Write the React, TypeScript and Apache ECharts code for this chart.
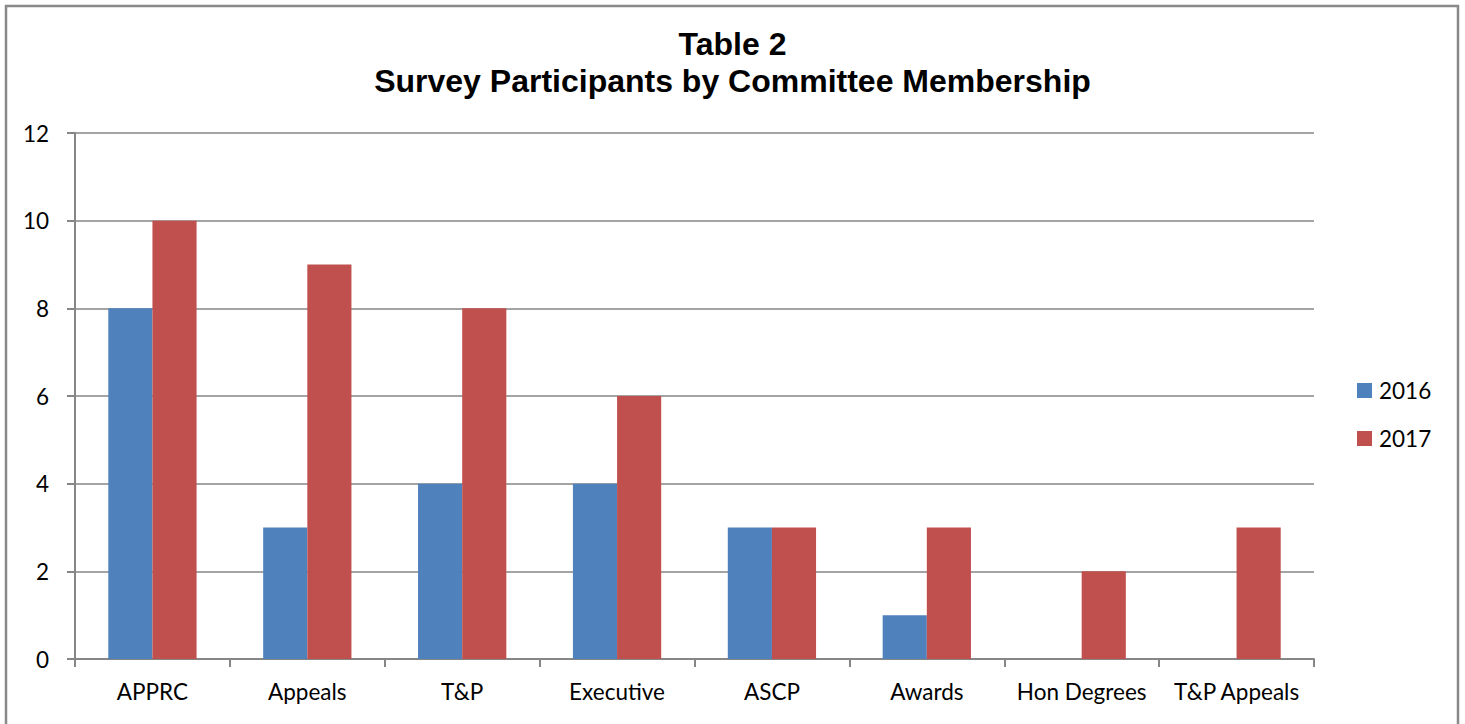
import React, { useEffect, useRef } from "react";
import * as echarts from "echarts";

const categories = ["APPRC", "Appeals", "T&P", "Executive", "ASCP", "Awards", "Hon Degrees", "T&P Appeals"];
const values2016 = [8, 3, 4, 4, 3, 1, 0, 0];
const values2017 = [10, 9, 8, 6, 3, 3, 2, 3];
const seriesNames = ["2016", "2017"];
const titleText = "Table 2\nSurvey Participants by Committee Membership";

export default function App() {
  const ref = useRef<HTMLDivElement>(null);
  useEffect(() => {
    document.body.style.margin = "0";
    const chart = echarts.init(ref.current!, null, { renderer: "svg" });
    const labelFont = "Lato";
    chart.setOption({
      animation: false,
      backgroundColor: "#ffffff",
      title: {
        text: titleText,
        left: "center",
        top: 20,
        textStyle: {
          fontFamily: "Liberation Sans",
          fontWeight: "bold",
          fontSize: 32,
          lineHeight: 37,
          color: "#000",
        },
      },
      graphic: [
        {
          type: "rect",
          shape: { x: 6, y: 6, width: 1452, height: 740 },
          style: { fill: "none", stroke: "#898989", lineWidth: 2.5 },
          silent: true,
        },
      ],
      legend: {
        orient: "vertical",
        left: 1352,
        top: 374,
        itemWidth: 15,
        itemHeight: 15,
        itemGap: 25,
        icon: "rect",
        textStyle: { fontFamily: labelFont, fontSize: 22.5, color: "#000", padding: [0, 0, 0, 2] },
        data: seriesNames,
      },
      grid: { left: 75, right: 151, top: 133, bottom: 65, containLabel: false },
      xAxis: {
        type: "category",
        data: categories,
        axisLine: { lineStyle: { color: "#868686", width: 2 } },
        axisTick: { show: true, length: 8, lineStyle: { color: "#868686", width: 2 } },
        axisLabel: { fontFamily: labelFont, fontSize: 22.5, color: "#000", margin: 21, interval: 0 },
      },
      yAxis: {
        type: "value",
        min: 0,
        max: 12,
        interval: 2,
        axisLine: { show: true, lineStyle: { color: "#868686", width: 2 } },
        axisTick: { show: true, length: 8, lineStyle: { color: "#868686", width: 2 } },
        splitLine: { lineStyle: { color: "#868686", width: 1.5 } },
        axisLabel: { fontFamily: labelFont, fontSize: 22.5, color: "#000", margin: 26 },
      },
      series: [
        {
          name: seriesNames[0],
          type: "bar",
          data: values2016,
          barGap: "0%",
          barCategoryGap: "43%",
          itemStyle: { color: "#4F81BD" },
        },
        {
          name: seriesNames[1],
          type: "bar",
          data: values2017,
          barGap: "0%",
          barCategoryGap: "43%",
          itemStyle: { color: "#C0504D" },
        },
      ],
    });
    return () => chart.dispose();
  }, []);
  return <div ref={ref} style={{ position: "absolute", left: 0, top: 0, width: 1465, height: 724 }} />;
}
